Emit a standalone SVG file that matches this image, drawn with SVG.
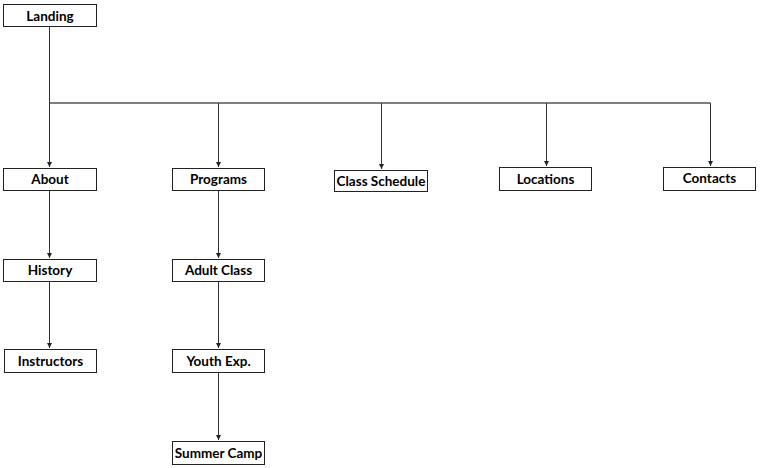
<svg xmlns="http://www.w3.org/2000/svg" width="760" height="468" viewBox="0 0 760 468">
<defs>
<style>
.box{fill:#fff;stroke:#222;stroke-width:1}
.lbl{font-family:Lato,"Open Sans","Liberation Sans",sans-serif;font-weight:bold;font-size:13.5px;fill:#000;text-anchor:middle}
.ln{stroke:#333;stroke-width:1;fill:none}
.hl{stroke:#000;stroke-width:1.2;fill:none}
</style>
<marker id="a" viewBox="0 0 6 6" refX="6" refY="3" markerWidth="5" markerHeight="5" orient="auto" markerUnits="userSpaceOnUse">
<path d="M0,0 L6,3 L0,6 Z" fill="#222"/>
</marker>
</defs>
<g id="connectors">
<path class="ln" d="M49.5,27 V103"/>
<path class="hl" d="M49.5,103 H710.5"/>
<path class="ln" d="M49.5,103 V167" marker-end="url(#a)"/>
<path class="ln" d="M218.5,103 V167" marker-end="url(#a)"/>
<path class="ln" d="M381.5,103 V169" marker-end="url(#a)"/>
<path class="ln" d="M546.5,103 V166" marker-end="url(#a)"/>
<path class="ln" d="M710.5,103 V166" marker-end="url(#a)"/>
<path class="ln" d="M49.5,191 V258" marker-end="url(#a)"/>
<path class="ln" d="M49.5,282 V348" marker-end="url(#a)"/>
<path class="ln" d="M218.5,191 V258" marker-end="url(#a)"/>
<path class="ln" d="M218.5,282 V348" marker-end="url(#a)"/>
<path class="ln" d="M218.5,373 V440" marker-end="url(#a)"/>
</g>
<g id="landing"><rect class="box" x="3.5" y="4.5" width="93" height="22"/><text class="lbl" x="50" y="20.5">Landing</text></g>
<g id="about"><rect class="box" x="3.5" y="168.5" width="93" height="22"/><text class="lbl" x="50" y="184">About</text></g>
<g id="programs"><rect class="box" x="172.5" y="168.5" width="92" height="22"/><text class="lbl" x="218.5" y="184">Programs</text></g>
<g id="class-schedule"><rect class="box" x="334.5" y="170.5" width="93" height="21"/><text class="lbl" x="381" y="186">Class Schedule</text></g>
<g id="locations"><rect class="box" x="499.5" y="167.5" width="92" height="23"/><text class="lbl" x="545.5" y="184">Locations</text></g>
<g id="contacts"><rect class="box" x="663.5" y="167.5" width="92" height="23"/><text class="lbl" x="709.5" y="183">Contacts</text></g>
<g id="history"><rect class="box" x="3.5" y="259.5" width="93" height="22"/><text class="lbl" x="50" y="275">History</text></g>
<g id="instructors"><rect class="box" x="4.5" y="349.5" width="92" height="23"/><text class="lbl" x="50.5" y="366">Instructors</text></g>
<g id="adult-class"><rect class="box" x="172.5" y="259.5" width="92" height="22"/><text class="lbl" x="218.5" y="275">Adult Class</text></g>
<g id="youth-exp"><rect class="box" x="172.5" y="349.5" width="92" height="23"/><text class="lbl" x="218.5" y="366">Youth Exp.</text></g>
<g id="summer-camp"><rect class="box" x="172.5" y="441.5" width="92" height="23"/><text class="lbl" x="218.5" y="458">Summer Camp</text></g>
</svg>
